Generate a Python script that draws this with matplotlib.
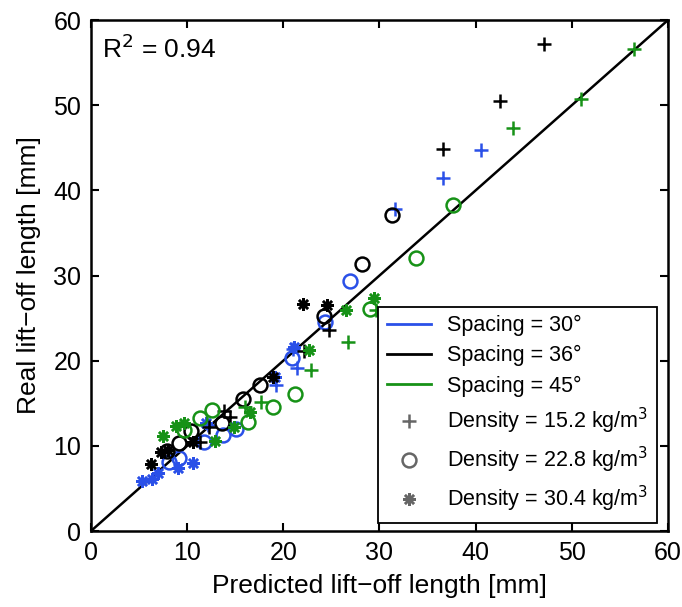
import matplotlib.pyplot as plt
from matplotlib.lines import Line2D

plt.rcParams['font.family'] = ['Liberation Sans', 'DejaVu Sans']

# spacing colours
BLUE = '#2a50e8'
BLACK = '#000000'
GREEN = '#179217'

# --- 30 deg spacing ---
s30_d152_x = [40.6, 36.6, 31.6, 21.4, 21.0, 19.2, 12.2]
s30_d152_y = [44.7, 41.5, 37.8, 19.1, 21.4, 17.2, 12.4]
s30_d228_x = [26.9, 24.3, 20.9, 15.1, 13.7, 11.7, 9.2, 8.1]
s30_d228_y = [29.4, 24.6, 20.3, 12.0, 11.3, 10.4, 8.6, 8.1]
s30_d304_x = [21.1, 19.1, 10.6, 9.0, 7.0, 6.3, 5.3, 12.0]
s30_d304_y = [21.6, 18.1, 8.0, 7.4, 6.8, 6.1, 5.9, 12.7]

# --- 36 deg spacing ---
s36_d152_x = [47.1, 42.5, 36.6, 24.7, 22.2, 14.5, 13.8, 11.3, 12.3]
s36_d152_y = [57.2, 50.5, 44.9, 23.6, 21.1, 13.4, 14.1, 10.4, 12.2]
s36_d228_x = [31.3, 28.2, 24.2, 17.6, 15.8, 13.6, 10.4, 9.2, 7.9]
s36_d228_y = [37.1, 31.4, 25.2, 17.2, 15.5, 12.7, 11.8, 10.3, 9.4]
s36_d304_x = [22.0, 24.5, 18.9, 10.6, 7.3, 6.2, 8.0]
s36_d304_y = [26.7, 26.5, 18.1, 10.4, 9.3, 7.9, 9.5]

# --- 45 deg spacing ---
s45_d152_x = [56.5, 50.9, 43.9, 26.7, 22.9, 17.7, 29.6, 16.0]
s45_d152_y = [56.6, 50.7, 47.3, 22.2, 18.9, 15.1, 26.0, 14.6]
s45_d228_x = [37.6, 33.8, 29.0, 21.2, 18.9, 16.3, 12.6, 11.3, 9.7]
s45_d228_y = [38.3, 32.1, 26.1, 16.1, 14.6, 12.8, 14.2, 13.3, 11.9]
s45_d304_x = [29.4, 26.5, 22.7, 16.5, 14.9, 12.9, 9.7, 8.8, 7.5]
s45_d304_y = [27.4, 26.0, 21.3, 14.0, 12.2, 10.6, 12.7, 12.3, 11.2]

spacing_labels = ['Spacing = 30°', 'Spacing = 36°', 'Spacing = 45°']
density_labels = ['Density = 15.2 kg/m$^3$', 'Density = 22.8 kg/m$^3$',
                  'Density = 30.4 kg/m$^3$']

ASTER = (8, 2, 0)
MSIZE = {'+': 10, 'o': 10, ASTER: 9}

groups = [
    (s30_d152_x, s30_d152_y, BLUE, '+'),
    (s30_d228_x, s30_d228_y, BLUE, 'o'),
    (s30_d304_x, s30_d304_y, BLUE, ASTER),
    (s36_d152_x, s36_d152_y, BLACK, '+'),
    (s36_d228_x, s36_d228_y, BLACK, 'o'),
    (s36_d304_x, s36_d304_y, BLACK, ASTER),
    (s45_d152_x, s45_d152_y, GREEN, '+'),
    (s45_d228_x, s45_d228_y, GREEN, 'o'),
    (s45_d304_x, s45_d304_y, GREEN, ASTER),
]

fig = plt.figure(figsize=(6.82, 6.07), dpi=100)
ax = fig.add_axes([0.1334, 0.1252, 0.8461, 0.8418])

ax.plot([0, 60], [0, 60], color='black', lw=1.8, zorder=1)

for x, y, c, m in groups:
    ax.plot(x, y, ls='none', marker=m, ms=MSIZE[m], mfc='none', mec=c,
            mew=1.8, zorder=2)

ax.set_xlim(0, 60)
ax.set_ylim(0, 60)
ax.set_xticks(range(0, 61, 10))
ax.set_yticks(range(0, 61, 10))
ax.tick_params(direction='in', length=6, width=1.5, labelsize=18,
               top=True, right=True, pad=7)
for sp in ax.spines.values():
    sp.set_linewidth(1.8)

ax.set_xlabel('Predicted lift\u2212off length [mm]', fontsize=19, labelpad=7)
ax.set_ylabel('Real lift\u2212off length [mm]', fontsize=19, labelpad=9)

ax.text(1.1, 56.6, 'R$^2$ = 0.94', fontsize=19, va='center', ha='left')

gray = '#666666'
handles = [Line2D([], [], color=c, lw=2) for c in (BLUE, BLACK, GREEN)]
handles += [
    Line2D([], [], ls='none', marker='+', ms=10, mec=gray, mew=1.8),
    Line2D([], [], ls='none', marker='o', ms=10, mfc='none', mec=gray,
           mew=1.8),
    Line2D([], [], ls='none', marker=ASTER, ms=9, mec=gray, mew=1.8),
]
leg = ax.legend(handles, spacing_labels + density_labels, loc='lower right',
                bbox_to_anchor=(0.981, 0.0157), borderaxespad=0,
                fontsize=15.5, frameon=True, fancybox=False,
                edgecolor='black', framealpha=1, handlelength=2.05,
                labelspacing=0.42, borderpad=0.4, handletextpad=0.75)
leg.get_frame().set_linewidth(1.3)

fig.savefig('out.png', dpi=100)
